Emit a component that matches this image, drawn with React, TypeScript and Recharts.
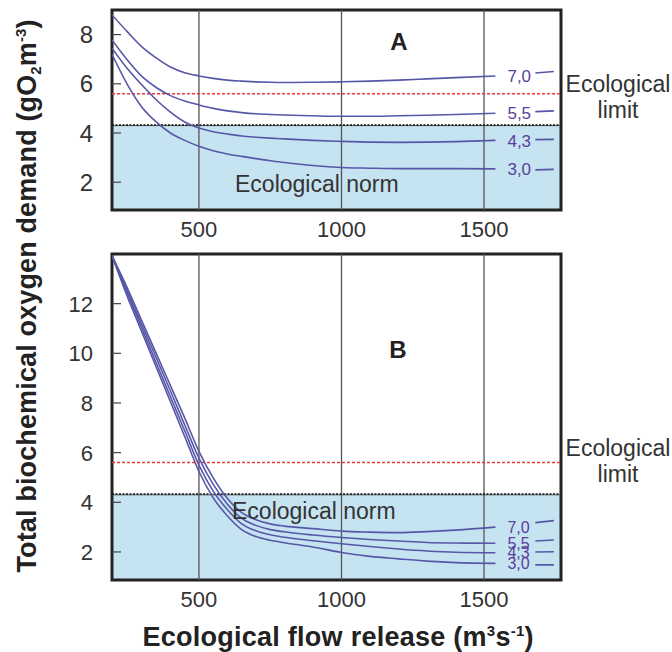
import { LineChart, Line, XAxis, YAxis, ReferenceArea, ReferenceLine } from "recharts";

// flow release (m3/s); the null row at 1610 breaks each curve for its label
const flowRelease = [195, 250, 300, 350, 400, 450, 500, 550, 600, 650, 700, 750, 800, 900, 1000, 1100, 1200, 1300, 1400, 1540, 1610, 1680, 1745];

// panel A
const bodA70 = [8.8, 8.1, 7.5, 7.05, 6.68, 6.45, 6.32, 6.22, 6.15, 6.11, 6.08, 6.06, 6.05, 6.06, 6.08, 6.11, 6.15, 6.2, 6.25, 6.32, null, 6.44, 6.5];
const bodA55 = [7.78, 6.95, 6.3, 5.85, 5.52, 5.3, 5.14, 5.0, 4.9, 4.83, 4.78, 4.75, 4.73, 4.7, 4.68, 4.68, 4.7, 4.72, 4.75, 4.8, null, 4.87, 4.9];
const bodA43 = [7.45, 6.6, 5.95, 5.35, 4.85, 4.45, 4.2, 4.05, 3.96, 3.88, 3.83, 3.79, 3.76, 3.7, 3.66, 3.63, 3.62, 3.63, 3.65, 3.7, null, 3.73, 3.74];
const bodA30 = [7.2, 5.95, 5.05, 4.45, 4.0, 3.7, 3.46, 3.28, 3.15, 3.05, 2.96, 2.87, 2.8, 2.68, 2.6, 2.57, 2.55, 2.55, 2.55, 2.54, null, 2.5, 2.52];

// panel B
const bodB70 = [13.93, 12.6, 11.3, 10.0, 8.7, 7.4, 6.05, 4.98, 4.15, 3.58, 3.3, 3.13, 3.04, 2.94, 2.84, 2.8, 2.78, 2.82, 2.88, 3.0, null, 3.18, 3.26];
const bodB55 = [13.93, 12.48, 11.15, 9.82, 8.48, 7.12, 5.78, 4.72, 3.92, 3.35, 3.07, 2.9, 2.81, 2.68, 2.58, 2.5, 2.44, 2.38, 2.36, 2.35, null, 2.44, 2.48];
const bodB43 = [13.93, 12.38, 11.0, 9.62, 8.25, 6.88, 5.5, 4.45, 3.7, 3.13, 2.85, 2.69, 2.59, 2.45, 2.33, 2.22, 2.12, 2.04, 1.99, 1.97, null, 2.0, 2.01];
const bodB30 = [13.93, 12.25, 10.85, 9.45, 8.05, 6.65, 5.24, 4.18, 3.45, 2.9, 2.62, 2.47, 2.37, 2.2, 1.98, 1.82, 1.72, 1.63, 1.57, 1.54, null, 1.48, 1.48];

const seriesKeys = ["s70", "s55", "s43", "s30"];
const seriesLabels = ["7,0", "5,5", "4,3", "3,0"];
const xTicks = [500, 1000, 1500];
const yTicksA = [2, 4, 6, 8];
const yTicksB = [2, 4, 6, 8, 10, 12];
const xDomain: [number, number] = [195, 1770];
const yDomainA: [number, number] = [0.87, 9];
const yDomainB: [number, number] = [0.87, 14];
const ecologicalLimit = 5.6;
const ecologicalNorm = 4.3;

const rowsA = flowRelease.map((x, i) => ({ x, s70: bodA70[i], s55: bodA55[i], s43: bodA43[i], s30: bodA30[i] }));
const rowsB = flowRelease.map((x, i) => ({ x, s70: bodB70[i], s55: bodB55[i], s43: bodB43[i], s30: bodB30[i] }));
const lastBeforeGap = flowRelease.indexOf(1610) - 1;

const FONT = "'Liberation Sans', Arial, Helvetica, sans-serif";
const CURVE = "#5757a8";
const LABEL = "#5a3e9c";

const inwardTick = (fontSize: number) => (props: any) => {
  const { x, y, payload } = props;
  return (
    <g>
      <text x={x} y={y} dy="0.36em" textAnchor="end" fontSize={fontSize} fill="#333" fontFamily={FONT}>
        {payload.value}
      </text>
      <line x1={x + 19} x2={x + 28} y1={y} y2={y} stroke="#444" strokeWidth={1.2} />
    </g>
  );
};

const endLabel = (text: string, fontSize: number) => (props: any) => {
  if (props.index !== lastBeforeGap) return <g />;
  return (
    <text x={props.x + 12} y={props.y} dy="0.36em" fontSize={fontSize} fill={LABEL} fontFamily={FONT}>
      {text}
    </text>
  );
};

const limitLabel = (dyTop: number, dyBottom: number) => (props: any) => {
  const { viewBox } = props;
  const cx = viewBox.x + viewBox.width + 57;
  return (
    <g fontFamily={FONT} fontSize={23} fill="#333">
      <text x={cx} y={viewBox.y + dyTop} textAnchor="middle">Ecological</text>
      <text x={cx} y={viewBox.y + dyBottom} textAnchor="middle">limit</text>
    </g>
  );
};

function Panel({ rows, yDomain, yTicks, height, marginTop, limitDy, tickFont, labelFont }: any) {
  return (
    <LineChart width={672} height={height} data={rows} margin={{ top: marginTop, right: 111, bottom: 10, left: 72 }}>
      <XAxis
        type="number"
        dataKey="x"
        domain={xDomain}
        ticks={xTicks}
        allowDataOverflow
        height={30}
        axisLine={false}
        tickLine={false}
        tickSize={0}
        tickMargin={11}
        tick={{ fontSize: 22, fill: "#333", fontFamily: FONT }}
      />
      <YAxis
        type="number"
        domain={yDomain}
        ticks={yTicks}
        allowDataOverflow
        width={40}
        axisLine={false}
        tickLine={false}
        tickSize={0}
        tickMargin={19}
        tick={inwardTick(tickFont)}
      />
      <ReferenceArea x1={xDomain[0]} x2={xDomain[1]} y1={yDomain[0]} y2={ecologicalNorm} fill="#c6e3f1" fillOpacity={1} stroke="none" />
      {xTicks.map((t) => (
        <ReferenceLine key={t} x={t} stroke="#555" strokeWidth={1.3} />
      ))}
      <ReferenceLine y={ecologicalNorm} stroke="#555" strokeWidth={1} />
      <ReferenceLine y={ecologicalNorm + 0.03} stroke="#111" strokeWidth={1.5} strokeDasharray="2 1.5" />
      <ReferenceLine
        y={ecologicalLimit}
        stroke="#e8393c"
        strokeWidth={1.5}
        strokeDasharray="3 2"
        label={limitLabel(limitDy[0], limitDy[1])}
      />
      {seriesKeys.map((k, i) => (
        <Line
          key={k}
          dataKey={k}
          type="monotone"
          stroke={CURVE}
          strokeWidth={1.6}
          dot={false}
          activeDot={false}
          connectNulls={false}
          isAnimationActive={false}
          label={endLabel(seriesLabels[i], labelFont)}
        />
      ))}
      <ReferenceArea
        x1={xDomain[0]}
        x2={xDomain[1]}
        y1={yDomain[0]}
        y2={yDomain[1]}
        fill="none"
        stroke="#222"
        strokeWidth={3}
      />
    </LineChart>
  );
}

export default function App() {
  return (
    <div style={{ position: "absolute", left: 0, top: 0, width: 672, height: 652, background: "#fff", fontFamily: FONT }}>
      <div style={{ position: "absolute", left: 0, top: 0 }}>
        <Panel rows={rowsA} yDomain={yDomainA} yTicks={yTicksA} height={250} marginTop={10} limitDy={[-2, 24]} tickFont={24} labelFont={17} />
      </div>
      <div style={{ position: "absolute", left: 0, top: 240 }}>
        <Panel rows={rowsB} yDomain={yDomainB} yTicks={yTicksB} height={380} marginTop={14} limitDy={[-7, 19]} tickFont={22} labelFont={16} />
      </div>
      <svg width={672} height={652} style={{ position: "absolute", left: 0, top: 0, pointerEvents: "none" }} fontFamily={FONT}>
        <text x={399} y={50} textAnchor="middle" fontSize={24} fontWeight="bold" fill="#222">A</text>
        <text x={398} y={358} textAnchor="middle" fontSize={24} fontWeight="bold" fill="#222">B</text>
        <text x={235} y={192} fontSize={23} fill="#333">Ecological norm</text>
        <text x={232} y={519} fontSize={23} fill="#333">Ecological norm</text>
        <text
          transform="translate(36,296) rotate(-90)"
          textAnchor="middle"
          fontSize={27}
          fontWeight="bold"
          fill="#222"
          textLength={553}
          lengthAdjust="spacing"
        >
          Total biochemical oxygen demand (gO<tspan fontSize={15} dy={5}>2</tspan>
          <tspan dy={-5}>m</tspan>
          <tspan fontSize={15} dy={-10}>-3</tspan>
          <tspan dy={10}>)</tspan>
        </text>
        <text x={338} y={646} textAnchor="middle" fontSize={27} fontWeight="bold" fill="#222" textLength={391} lengthAdjust="spacing">
          Ecological flow release (m<tspan fontSize={15} dy={-10}>3</tspan>
          <tspan dy={10}>s</tspan>
          <tspan fontSize={15} dy={-10}>-1</tspan>
          <tspan dy={10}>)</tspan>
        </text>
      </svg>
    </div>
  );
}
